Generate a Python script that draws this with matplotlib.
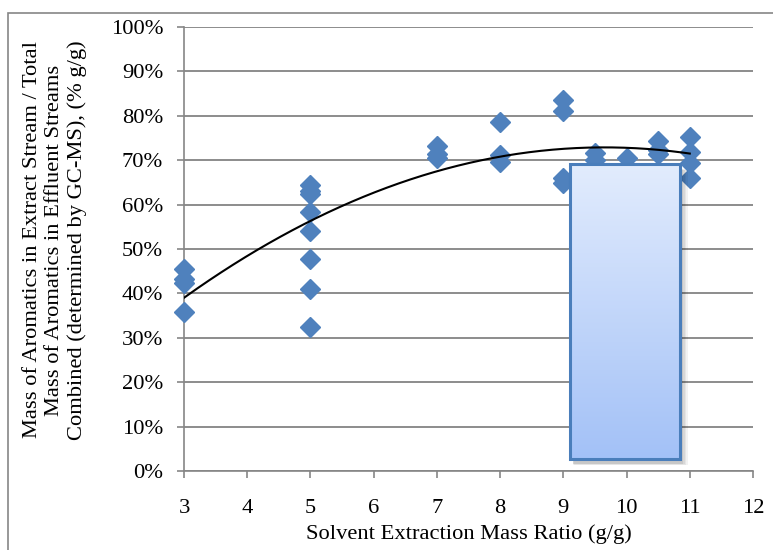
import numpy as np
import matplotlib
matplotlib.use("Agg")
import matplotlib.pyplot as plt
from matplotlib.patches import Rectangle
from matplotlib.colors import LinearSegmentedColormap
from matplotlib.ticker import PercentFormatter, MultipleLocator

plt.rcParams["font.family"] = ["Liberation Serif", "DejaVu Serif"]

# Solvent-to-feed mass ratio (g/g) and aromatics recovered in the extract (%)
solvent_ratio = [3, 3, 3, 3,
                 5, 5, 5, 5, 5, 5, 5, 5,
                 7, 7, 7,
                 8, 8, 8,
                 9, 9, 9, 9,
                 9.5, 9.5,
                 10,
                 10.5, 10.5, 10.5,
                 11, 11, 11, 11]
aromatics_pct = [45.6, 43.2, 42.3, 35.8,
                 64.4, 63.1, 62.4, 58.3, 54.1, 47.7, 41.1, 32.4,
                 73.3, 71.5, 70.6,
                 78.7, 71.2, 69.7,
                 83.6, 81.1, 66.1, 64.8,
                 71.6, 70.0,
                 70.4,
                 74.4, 72.2, 71.3,
                 75.3, 71.9, 69.3, 65.9]
x_ticks = list(range(3, 13))

AXIS_GRAY = "#868686"
MARKER_BLUE = "#4f81bd"
FS = 16.2

fig = plt.figure(figsize=(7.73, 5.5), dpi=100)
W, H = 773, 550
ax = fig.add_axes([184 / W, 79 / H, (753 - 184) / W, (471 - 27) / H])

# outer chart frame
fig.add_artist(Rectangle((8 / W, -0.5), 2.0, 1.5 - 13 / H,
                         transform=fig.transFigure, fill=False,
                         ec=AXIS_GRAY, lw=1.2))

# data points
ax.plot(solvent_ratio, aromatics_pct, ls="none", marker="D", ms=9.8,
        color=MARKER_BLUE, mec=MARKER_BLUE, zorder=3, clip_on=False)

# second-order polynomial trend line
coef = np.polyfit(solvent_ratio, aromatics_pct, 2)
xs = np.linspace(min(solvent_ratio), max(solvent_ratio), 300)
ax.plot(xs, np.polyval(coef, xs), color="black", lw=1.5, zorder=4)

# shaded call-out box with soft drop shadow
bx0, bx1, by0, by1 = 9.11, 10.84, 2.7, 69.1
for i, a in enumerate([0.05, 0.05, 0.06, 0.07]):
    d = 0.02 * (4 - i)
    ax.add_patch(Rectangle((bx0 + 0.03 + d * 0.3, by0 - 0.9 - d * 6),
                           bx1 - bx0 + d, by1 - by0,
                           fc="black", ec="none", alpha=a, zorder=5))
cmap = LinearSegmentedColormap.from_list("box", ["#a3c1f7", "#e2ecfd"])
grad = np.linspace(0, 1, 256).reshape(-1, 1)
ax.imshow(grad, extent=[bx0, bx1, by0, by1], origin="lower", cmap=cmap,
          aspect="auto", zorder=6, interpolation="bilinear")
ax.add_patch(Rectangle((bx0, by0), bx1 - bx0, by1 - by0, fill=False,
                       ec="#4a7ebb", lw=2.2, zorder=7))

# axes styling
ax.set_xlim(3, 12)
ax.set_ylim(0, 100)
ax.set_xticks(x_ticks)
ax.yaxis.set_major_locator(MultipleLocator(10))
ax.yaxis.set_major_formatter(PercentFormatter(100, decimals=0))
ax.yaxis.grid(True, color="#8c8c8c", lw=1.4)
ax.set_axisbelow(True)
for side in ("top", "right"):
    ax.spines[side].set_visible(False)
for side in ("left", "bottom"):
    ax.spines[side].set_color(AXIS_GRAY)
    ax.spines[side].set_linewidth(1.2)
ax.tick_params(axis="y", length=5, width=1.2, color=AXIS_GRAY, pad=10,
               labelsize=FS)
ax.tick_params(axis="x", length=5, width=1.2, color=AXIS_GRAY, pad=15,
               labelsize=FS)

ax.set_xlabel("Solvent Extraction Mass Ratio (g/g)", fontsize=FS, labelpad=5)
fig.text(55 / W, 1 - 240 / H,
         "Mass of Aromatics in Extract Stream / Total\n"
         "Mass of Aromatics in Effluent Streams\n"
         "Combined (determined by GC-MS), (% g/g)",
         rotation=90, ha="center", va="center", multialignment="center",
         fontsize=FS, linespacing=1.25)

fig.savefig("out.png", dpi=100)
